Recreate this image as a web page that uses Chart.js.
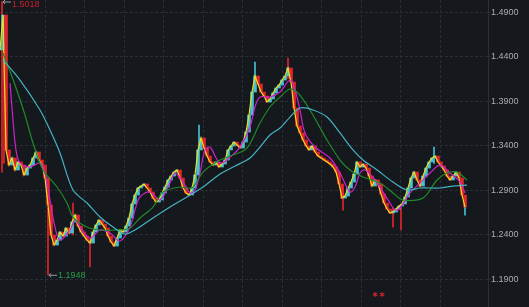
<!DOCTYPE html>
<html>
<head>
<meta charset="utf-8">
<script src="https://cdn.jsdelivr.net/npm/chart.js@4.4.1/dist/chart.umd.min.js"></script>
<style>
  html, body { margin: 0; padding: 0; background: #15181d; }
  #caixa { width: 529px; height: 307px; }
</style>
</head>
<body>
<div id="caixa"><canvas id="grafico"></canvas></div>
<script>
// fechamentos, um a cada 3 sessoes
const fechamentos = [
  1.4473, 1.4866, 1.3350, 1.3181, 1.3260, 1.3125, 1.3215, 1.3181, 1.3069, 1.3147,
  1.3181, 1.3260, 1.3327, 1.3237, 1.3181, 1.3035, 1.2732, 1.2395, 1.2282, 1.2338,
  1.2428, 1.2383, 1.2473, 1.2417, 1.2541, 1.2619, 1.2496, 1.2428, 1.2383, 1.2338,
  1.2305, 1.2428, 1.2507, 1.2563, 1.2518, 1.2473, 1.2383, 1.2316, 1.2271, 1.2361,
  1.2451, 1.2428, 1.2496, 1.2586, 1.2743, 1.2844, 1.2923, 1.2945, 1.2968, 1.2923,
  1.2878, 1.2810, 1.2765, 1.2788, 1.2867, 1.2934, 1.3013, 1.3057, 1.3102, 1.3125,
  1.3035, 1.2923, 1.2867, 1.2844, 1.2923, 1.3069, 1.3350, 1.3484, 1.3372, 1.3282,
  1.3215, 1.3181, 1.3215, 1.3159, 1.3192, 1.3237, 1.3350, 1.3395, 1.3439, 1.3406,
  1.3372, 1.3439, 1.3552, 1.3743, 1.4001, 1.4181, 1.4091, 1.4001, 1.3956, 1.3889,
  1.3923, 1.3990, 1.4046, 1.4080, 1.4136, 1.4181, 1.4271, 1.4114, 1.3822, 1.3619,
  1.3541, 1.3462, 1.3395, 1.3350, 1.3395, 1.3327, 1.3282, 1.3260, 1.3237, 1.3215,
  1.3192, 1.3159, 1.3102, 1.2968, 1.2810, 1.2833, 1.2923, 1.2990, 1.3080, 1.3215,
  1.3159, 1.3192, 1.3147, 1.3057, 1.2945, 1.3013, 1.2968, 1.2855, 1.2754, 1.2687,
  1.2642, 1.2653, 1.2687, 1.2720, 1.2743, 1.2822, 1.2923, 1.3035, 1.3102, 1.3013,
  1.2945, 1.3057, 1.3147, 1.3215, 1.3260, 1.3282, 1.3215, 1.3170, 1.3125, 1.3057,
  1.3013, 1.3057, 1.3102, 1.3035, 1.2844, 1.2709
];
const passoSessao = 3;

// pavios que se destacam: sessao, minima, maxima
const paviosSessao = [2, 4, 48, 73, 90, 199, 255, 288, 343, 393, 401, 434, 465];
const paviosMin    = [1.3100, 1.3200, 1.1948, 1.2395, 1.2035, 1.3350, 1.4100, 1.4150, 1.2675, 1.2484, 1.2451, 1.3200, 1.2619];
const paviosMax    = [1.5018, 1.4500, 1.2700, 1.2754, 1.2350, 1.3631, 1.4338, 1.4383, 1.2950, 1.2700, 1.2700, 1.3383, 1.2800];

// media curta (magenta)
const mmCurtaSessao = [10, 13, 16, 20, 30, 40, 45, 50, 55, 60, 70, 75, 80, 90, 100, 110, 120, 130, 135, 140,
  150, 160, 170, 175, 185, 190, 195, 200, 205, 210, 220, 230, 240, 250, 255, 260, 270, 280, 290, 295,
  300, 305, 315, 330, 340, 350, 355, 360, 365, 375, 390, 395, 400, 410, 420, 430, 440, 450, 460, 465];
const mmCurta = [1.4102, 1.3687, 1.3350, 1.3204, 1.3159, 1.3204, 1.3091, 1.2788, 1.2484, 1.2338,
  1.2451, 1.2563, 1.2484, 1.2361, 1.2451, 1.2417, 1.2327, 1.2484, 1.2675, 1.2822,
  1.2878, 1.2788, 1.2979, 1.3091, 1.2956, 1.2867, 1.2900, 1.3091, 1.3350, 1.3383,
  1.3204, 1.3271, 1.3383, 1.3608, 1.3833, 1.3945, 1.3945, 1.4001, 1.4136, 1.4024,
  1.3799, 1.3541, 1.3383, 1.3260, 1.3091, 1.2878, 1.2934, 1.3091, 1.3125, 1.3013,
  1.2754, 1.2675, 1.2698, 1.2867, 1.2979, 1.3091, 1.3181, 1.3091, 1.2990, 1.2867];

// media intermediaria (verde)
const mmMediaSessao = [3, 15, 25, 33, 43, 57, 67, 73, 87, 100, 117, 130, 140, 153, 163, 180, 192, 203, 220, 233,
  247, 260, 270, 280, 290, 298, 310, 327, 340, 350, 363, 380, 393, 403, 423, 437, 447, 457, 467];
const mmMedia = [1.4439, 1.4080, 1.3743, 1.3428, 1.3125, 1.2934, 1.2754, 1.2597, 1.2484, 1.2451,
  1.2451, 1.2473, 1.2586, 1.2709, 1.2878, 1.2934, 1.2923, 1.3102, 1.3237, 1.3293,
  1.3372, 1.3653, 1.3833, 1.3945, 1.4035, 1.3990, 1.3799, 1.3462, 1.3237, 1.3125,
  1.3046, 1.2979, 1.2867, 1.2788, 1.2810, 1.3013, 1.3091, 1.3102, 1.3013];

// media longa (ciano)
const mmLongaSessao = [3, 20, 40, 50, 60, 73, 87, 100, 113, 125, 135, 153, 170, 187, 203, 220, 235, 250, 260, 270,
  280, 290, 300, 313, 327, 340, 353, 363, 377, 393, 407, 420, 440, 453, 467];
const mmLonga = [1.4361, 1.4136, 1.3799, 1.3574, 1.3316, 1.2900, 1.2754, 1.2597, 1.2484, 1.2406,
  1.2451, 1.2586, 1.2709, 1.2822, 1.2934, 1.3080, 1.3170, 1.3260, 1.3383, 1.3518,
  1.3597, 1.3720, 1.3822, 1.3799, 1.3720, 1.3541, 1.3350, 1.3237, 1.3125, 1.2990,
  1.2900, 1.2923, 1.2923, 1.2945, 1.2956];

// marcadores de evento no rodape
const eventosSessao = [375, 382];

const ticksPreco = [1.19, 1.24, 1.29, 1.34, 1.39, 1.44, 1.49];
const precoMin = 1.1586;
const precoMax = 1.5035;

const CORES = {
  fundo: '#15181d',
  grade: '#2a2e34',
  texto: '#a9adb3',
  alta: '#46bfd0',
  baixa: '#e0252d',
  fechamento: '#f0dc1c',
  curta: '#cc22cc',
  media: '#1e8a28',
  longa: '#45b3c3',
  maxima: '#c8202e',
  minima: '#27a048',
  seta: '#9a9ea4'
};

const sessoes = fechamentos.map((_, i) => i * passoSessao);

// corpos: do fechamento anterior ao atual
const corpos = fechamentos.map((c, i) => {
  const anterior = i > 0 ? fechamentos[i - 1] : c;
  return { x: sessoes[i], y: [anterior, c] };
});
const coresCorpos = fechamentos.map((c, i) => {
  const anterior = i > 0 ? fechamentos[i - 1] : c;
  return c >= anterior ? CORES.alta : CORES.baixa;
});

const pavios = paviosSessao.map((s, i) => ({ x: s, y: [paviosMin[i], paviosMax[i]] }));
const coresPavios = paviosSessao.map((s, i) => {
  const idx = Math.min(Math.round(s / passoSessao), fechamentos.length - 1);
  return paviosMin[i] < fechamentos[idx] - 0.012 ? CORES.baixa : CORES.alta;
});

const paraPontos = (xs, ys) => xs.map((x, i) => ({ x: x, y: ys[i] }));

// fundo escuro
const pluginFundo = {
  id: 'fundo',
  beforeDraw(chart) {
    const ctx = chart.ctx;
    ctx.save();
    ctx.fillStyle = CORES.fundo;
    ctx.fillRect(0, 0, chart.width, chart.height);
    ctx.restore();
  }
};

// rotulos de maxima/minima e marcadores de evento
const pluginRotulos = {
  id: 'rotulos',
  afterDatasetsDraw(chart) {
    const ctx = chart.ctx;
    const sx = chart.scales.x, sy = chart.scales.y;
    const iMax = paviosMax.indexOf(Math.max(...paviosMax));
    const iMin = paviosMin.indexOf(Math.min(...paviosMin));

    const rotulo = (sessao, valor, cor) => {
      const px = sx.getPixelForValue(sessao);
      const py = sy.getPixelForValue(valor);
      ctx.save();
      ctx.strokeStyle = CORES.seta;
      ctx.lineWidth = 1;
      ctx.beginPath();
      ctx.moveTo(px + 1, py + 0.5);
      ctx.lineTo(px + 9, py + 0.5);
      ctx.moveTo(px + 1, py + 0.5);
      ctx.lineTo(px + 3, py - 1.5);
      ctx.moveTo(px + 1, py + 0.5);
      ctx.lineTo(px + 3, py + 2.5);
      ctx.stroke();
      ctx.fillStyle = cor;
      ctx.font = '9px "Liberation Sans", Arial, sans-serif';
      ctx.textBaseline = 'middle';
      ctx.textAlign = 'left';
      ctx.fillText(valor.toFixed(4), px + 10, Math.max(py + 0.5, 5));
      ctx.restore();
    };
    rotulo(paviosSessao[iMax], paviosMax[iMax], CORES.maxima);
    rotulo(paviosSessao[iMin], paviosMin[iMin], CORES.minima);

    ctx.save();
    ctx.fillStyle = CORES.baixa;
    ctx.font = 'bold 10px "DejaVu Sans", sans-serif';
    ctx.textAlign = 'center';
    ctx.textBaseline = 'middle';
    eventosSessao.forEach(s => {
      ctx.fillText('*', sx.getPixelForValue(s), chart.chartArea.bottom - 10);
    });
    ctx.restore();
  }
};

const ctx = document.getElementById('grafico').getContext('2d');
new Chart(ctx, {
  type: 'bar',
  data: {
    datasets: [
      { type: 'bar', data: pavios, backgroundColor: coresPavios, barThickness: 1, grouped: false, borderWidth: 0, order: 6 },
      { type: 'bar', data: corpos, backgroundColor: coresCorpos, barThickness: 3, minBarLength: 2, grouped: false, borderWidth: 0, order: 5 },
      { type: 'line', data: paraPontos(sessoes, fechamentos), borderColor: CORES.fechamento, borderWidth: 1.2, pointRadius: 0, tension: 0, order: 4 },
      { type: 'line', data: paraPontos(mmCurtaSessao, mmCurta), borderColor: CORES.curta, borderWidth: 1.2, pointRadius: 0, tension: 0.35, order: 3 },
      { type: 'line', data: paraPontos(mmMediaSessao, mmMedia), borderColor: CORES.media, borderWidth: 1.2, pointRadius: 0, tension: 0.3, order: 2 },
      { type: 'line', data: paraPontos(mmLongaSessao, mmLonga), borderColor: CORES.longa, borderWidth: 1.2, pointRadius: 0, tension: 0.3, order: 1 }
    ]
  },
  options: {
    responsive: true,
    maintainAspectRatio: false,
    animation: false,
    devicePixelRatio: 1,
    layout: { padding: 0 },
    plugins: { legend: { display: false }, tooltip: { enabled: false } },
    scales: {
      x: {
        type: 'linear',
        min: 0,
        max: 488,
        offset: false,
        afterBuildTicks: s => {
          const t = [];
          for (let v = 45; v < 460; v += 39.55) t.push({ value: v });
          s.ticks = t;
        },
        afterFit: s => { s.height = 0; s.paddingLeft = 0; s.paddingRight = 0; },
        ticks: { display: false },
        grid: { color: CORES.grade, drawTicks: false, offset: false },
        border: { display: false, dash: [3, 2] }
      },
      y: {
        position: 'right',
        min: precoMin,
        max: precoMax,
        afterBuildTicks: s => { s.ticks = ticksPreco.map(v => ({ value: v })); },
        afterFit: s => { s.width = 41; s.paddingTop = 0; s.paddingBottom = 0; },
        ticks: {
          color: CORES.texto,
          font: { family: '"Liberation Sans", Arial, sans-serif', size: 9 },
          padding: 0,
          callback: v => Number(v).toFixed(4)
        },
        grid: { color: CORES.grade, tickLength: 3 },
        border: { color: '#2c3036', dash: [3, 2] }
      }
    }
  },
  plugins: [pluginFundo, pluginRotulos]
});
</script>
</body>
</html>
